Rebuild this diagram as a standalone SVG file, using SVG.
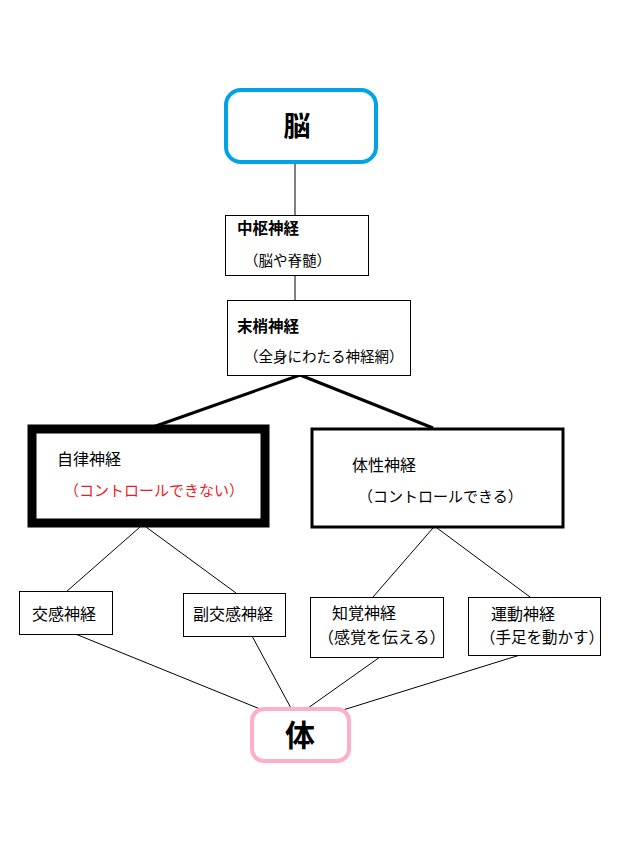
<svg xmlns="http://www.w3.org/2000/svg" width="627" height="853" viewBox="0 0 627 853">
<style>
text{font-family:"Noto Sans CJK JP","Noto Sans CJK SC",sans-serif;fill:#000;font-size:15px}
.b{font-weight:bold}
.box{fill:#fff;stroke:#000;stroke-width:1}
.ln{stroke:#000;stroke-width:1;fill:none}
.th{stroke:#000;stroke-width:3;fill:none}
.red{fill:#ed1c24}
</style>
<rect width="627" height="853" fill="#fff"/>
<g id="connectors">
<line class="ln" x1="295" y1="162" x2="295" y2="215"/>
<line class="ln" x1="295" y1="275" x2="295" y2="300"/>
<line class="th" x1="300" y1="375" x2="153" y2="427"/>
<line class="th" x1="300" y1="375" x2="433" y2="428"/>
<line class="ln" x1="140" y1="527" x2="66" y2="592"/>
<line class="ln" x1="146" y1="527" x2="236" y2="593"/>
<line class="ln" x1="433" y1="528" x2="373" y2="597"/>
<line class="ln" x1="437" y1="528" x2="530" y2="597"/>
<line class="ln" x1="73" y1="633" x2="260" y2="709"/>
<line class="ln" x1="252" y1="636" x2="292" y2="710"/>
<line class="ln" x1="380" y1="657" x2="308" y2="708"/>
<line class="ln" x1="520" y1="655" x2="343" y2="710"/>
</g>
<g id="brain">
<rect x="226" y="90" width="150" height="72" rx="15" fill="#fff" stroke="#00a2e8" stroke-width="4"/>
<text x="297" y="136" class="b" style="font-size:27px" text-anchor="middle">脳</text>
</g>
<g id="chusu">
<rect class="box" x="225.5" y="215.5" width="143" height="60"/>
<text x="237" y="234" class="b" style="font-size:15.5px">中枢神経</text>
<text x="244" y="266" style="font-size:14.5px">（脳や脊髄）</text>
</g>
<g id="masho">
<rect class="box" x="227.5" y="300.5" width="183" height="75"/>
<text x="237" y="332" class="b" style="font-size:15.5px">末梢神経</text>
<text x="244" y="362" style="font-size:14.5px">（全身にわたる神経網）</text>
</g>
<g id="jiritsu">
<rect x="32" y="429" width="233" height="94" fill="#fff" stroke="#000" stroke-width="9"/>
<text x="57" y="465" style="font-size:16px">自律神経</text>
<text x="64" y="496" class="red">（コントロールできない）</text>
</g>
<g id="taisei">
<rect x="312" y="429" width="251" height="98" fill="#fff" stroke="#000" stroke-width="3"/>
<text x="352" y="471" style="font-size:16px">体性神経</text>
<text x="358" y="502">（コントロールできる）</text>
</g>
<g id="kokan">
<rect class="box" x="19.5" y="591.5" width="93" height="43"/>
<text x="32" y="620" style="font-size:16px">交感神経</text>
</g>
<g id="fukukokan">
<rect class="box" x="183.5" y="593.5" width="102" height="43"/>
<text x="193" y="620" style="font-size:16px">副交感神経</text>
</g>
<g id="chikaku">
<rect class="box" x="310.5" y="597.5" width="133" height="60"/>
<text x="332" y="619" style="font-size:16px">知覚神経</text>
<text x="318" y="643" style="font-size:16px">（感覚を伝える）</text>
</g>
<g id="undo">
<rect class="box" x="468.5" y="597.5" width="132" height="58"/>
<text x="491" y="620" style="font-size:16px">運動神経</text>
<text x="480" y="643" style="font-size:15.5px">（手足を動かす）</text>
</g>
<g id="body">
<rect x="252" y="709" width="97" height="52" rx="12" fill="#fff" stroke="#ffaec9" stroke-width="4"/>
<text x="300" y="746" class="b" style="font-size:30px" text-anchor="middle">体</text>
</g>
</svg>
